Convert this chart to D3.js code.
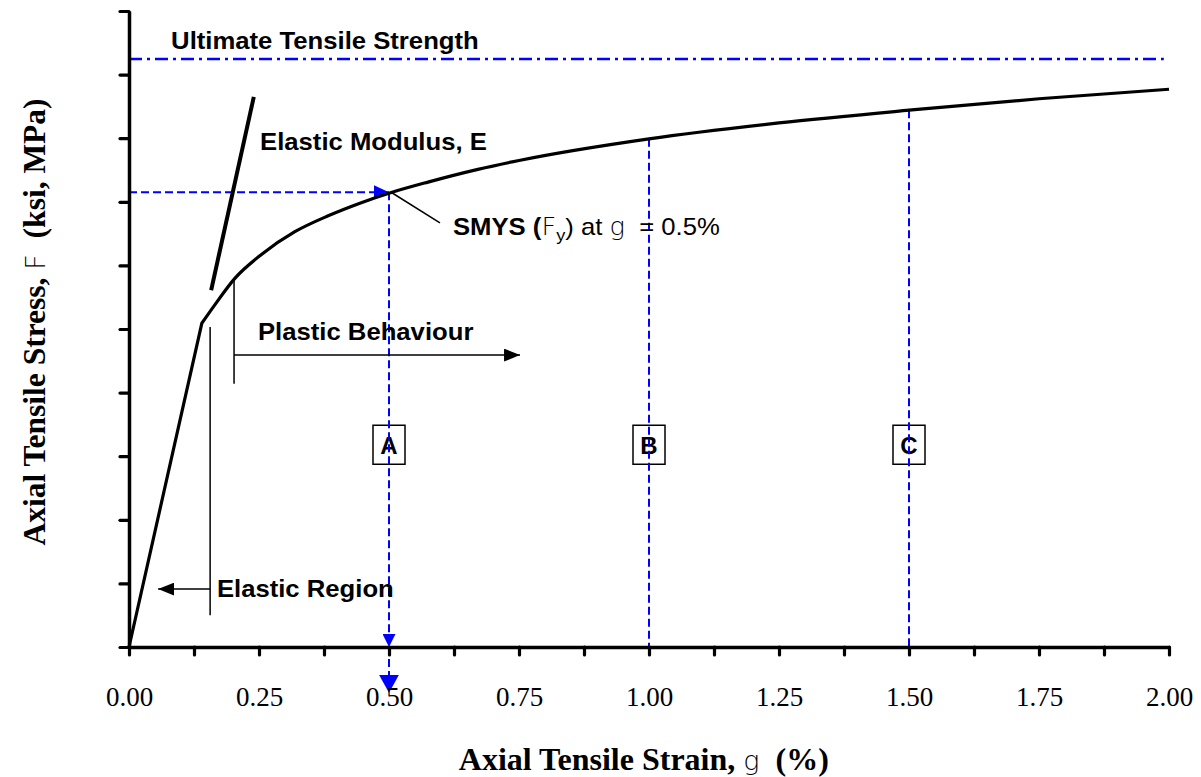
<!DOCTYPE html>
<html>
<head>
<meta charset="utf-8">
<script src="https://cdn.jsdelivr.net/npm/d3@7"></script>
<style>
body { margin: 0; background: #fff; }
text { white-space: pre; }
</style>
</head>
<body>
<script>
// stress-strain curve (strain in %, stress in axis units)
// point 1 is the end of the elastic part
const strain = [0, 0.14, 0.165, 0.204, 0.256, 0.319, 0.383, 0.448, 0.506, 0.575, 0.671, 0.75, 1.0, 1.25, 1.5, 1.75, 2.0];
const stress = [0, 5.09, 5.38, 5.80, 6.18, 6.53, 6.78, 6.99, 7.15, 7.31, 7.51, 7.65, 7.99, 8.24, 8.44, 8.62, 8.77];

const xTickValues = [0, 0.125, 0.25, 0.375, 0.5, 0.625, 0.75, 0.875, 1, 1.125, 1.25, 1.375, 1.5, 1.625, 1.75, 1.875, 2];
const xTickLabels = ["0.00", "", "0.25", "", "0.50", "", "0.75", "", "1.00", "", "1.25", "", "1.50", "", "1.75", "", "2.00"];
const yTickValues = [0, 1, 2, 3, 4, 5, 6, 7, 8, 9, 10];

const utsStress = 9.245;
const smysStrain = 0.5;
const smysStress = 7.15;
const pointNames = ["A", "B", "C"];
const pointStrains = [0.5, 1.0, 1.5];
const pointStress = [7.15, 7.99, 8.44];
const modulusLine = [[0.158, 5.61], [0.240, 8.65]];

const width = 1201, height = 777;
const blue = "#0000ff";
const sans = "Liberation Sans, Arial, sans-serif";
const serif = "Liberation Serif, Times New Roman, serif";
const symb = "DejaVu Sans";

const svg = d3.select("body").append("svg")
    .attr("width", width)
    .attr("height", height);

const x = d3.scaleLinear().domain([0, 2]).range([129, 1169]);
const y = d3.scaleLinear().domain([0, 10]).range([647, 11]);

const defs = svg.append("defs");
function marker(id, color, w, h) {
    defs.append("marker")
        .attr("id", id)
        .attr("markerUnits", "userSpaceOnUse")
        .attr("viewBox", `0 0 ${w} ${h}`)
        .attr("refX", w).attr("refY", h / 2)
        .attr("markerWidth", w).attr("markerHeight", h)
        .attr("orient", "auto")
        .append("path")
        .attr("d", `M0,0L${w},${h / 2}L0,${h}Z`)
        .attr("fill", color);
}
marker("blueH", blue, 15, 14);
marker("blueV1", blue, 13, 13);
marker("blueV2", blue, 18, 20);
marker("black", "#000", 16, 13);

// boxes A B C
const boxY = 3.18;
pointStrains.forEach((s, i) => {
    svg.append("rect")
        .attr("x", x(s) - 16).attr("y", y(boxY) - 19.5)
        .attr("width", 32).attr("height", 39)
        .attr("fill", "#fff").attr("stroke", "#000").attr("stroke-width", 1.5);
    svg.append("text")
        .attr("x", x(s)).attr("y", y(boxY) + 9)
        .attr("text-anchor", "middle")
        .attr("font-family", sans).attr("font-weight", "bold").attr("font-size", 24)
        .text(pointNames[i]);
});

// blue reference lines
svg.append("line")
    .attr("x1", x(0)).attr("x2", x(1.99))
    .attr("y1", y(utsStress)).attr("y2", y(utsStress))
    .attr("stroke", blue).attr("stroke-width", 2.4)
    .attr("stroke-dasharray", "13,5,3,5");

svg.append("line")
    .attr("x1", x(0)).attr("x2", x(smysStrain))
    .attr("y1", y(smysStress)).attr("y2", y(smysStress))
    .attr("stroke", blue).attr("stroke-width", 2)
    .attr("stroke-dasharray", "8,4")
    .attr("marker-end", "url(#blueH)");

pointStrains.forEach((s, i) => {
    svg.append("line")
        .attr("x1", x(s)).attr("x2", x(s))
        .attr("y1", y(pointStress[i])).attr("y2", y(0))
        .attr("stroke", blue).attr("stroke-width", 2)
        .attr("stroke-dasharray", "8,4")
        .attr("marker-end", i == 0 ? "url(#blueV1)" : null);
});
svg.append("line")
    .attr("x1", x(smysStrain)).attr("x2", x(smysStrain))
    .attr("y1", y(0)).attr("y2", y(-0.72))
    .attr("stroke", blue).attr("stroke-width", 2)
    .attr("stroke-dasharray", "8,4")
    .attr("marker-end", "url(#blueV2)");

// the curve: straight elastic part, smooth plastic part
const pts = strain.map((s, i) => [s, stress[i]]);
const straight = d3.line().x(d => x(d[0])).y(d => y(d[1]));
const smooth = d3.line().x(d => x(d[0])).y(d => y(d[1])).curve(d3.curveMonotoneX);

svg.append("path")
    .attr("d", straight(pts.slice(0, 2)) + smooth(pts.slice(1)).replace(/^M/, "L"))
    .attr("fill", "none")
    .attr("stroke", "#000")
    .attr("stroke-width", 3.2)
    .attr("stroke-linejoin", "round");

svg.append("path")
    .attr("d", straight(modulusLine))
    .attr("stroke", "#000")
    .attr("stroke-width", 4);

// thin annotation lines
const guides = [
    [[0.156, 5.03], [0.156, 0.50]],
    [[0.202, 5.77], [0.202, 4.14]],
    [[0.504, 7.15], [0.598, 6.67]]
];
guides.forEach(g => {
    svg.append("line")
        .attr("x1", x(g[0][0])).attr("y1", y(g[0][1]))
        .attr("x2", x(g[1][0])).attr("y2", y(g[1][1]))
        .attr("stroke", "#000").attr("stroke-width", 1.5);
});
const arrows = [
    [[0.156, 0.91], [0.056, 0.91]],
    [[0.202, 4.59], [0.752, 4.59]]
];
arrows.forEach(a => {
    svg.append("line")
        .attr("x1", x(a[0][0])).attr("y1", y(a[0][1]))
        .attr("x2", x(a[1][0])).attr("y2", y(a[1][1]))
        .attr("stroke", "#000").attr("stroke-width", 1.5)
        .attr("marker-end", "url(#black)");
});

// annotation labels
function note(xv, yv) {
    return svg.append("text")
        .attr("transform", `translate(${x(xv)},${y(yv)}) scale(1.07,1)`)
        .attr("font-family", sans).attr("font-size", 24);
}
note(0.081, 9.40).attr("font-weight", "bold").text("Ultimate Tensile Strength");
note(0.252, 7.81).attr("font-weight", "bold").text("Elastic Modulus, E");
note(0.248, 4.83).attr("font-weight", "bold").text("Plastic Behaviour");
note(0.169, 0.79).attr("font-weight", "bold").text("Elastic Region");

const smys = note(0.623, 6.48);
smys.append("tspan").attr("font-weight", "bold").text("SMYS (");
smys.append("tspan").attr("font-family", symb).attr("font-stretch", "condensed").attr("font-weight", 200).text("F");
smys.append("tspan").attr("font-size", 17).attr("dy", 6).text("y");
smys.append("tspan").attr("dy", -6).text(") at ");
smys.append("tspan").attr("font-family", symb).attr("font-stretch", "condensed").attr("font-weight", 200).text("g");
smys.append("tspan").text("  = 0.5%");

// axes
const xAxis = svg.append("g")
    .attr("transform", `translate(0,${y(0)})`)
    .call(d3.axisBottom(x)
        .tickValues(xTickValues)
        .tickFormat((d, i) => xTickLabels[i])
        .tickSize(8).tickSizeOuter(0).tickPadding(32));
const yAxis = svg.append("g")
    .attr("transform", `translate(${x(0)},0)`)
    .call(d3.axisLeft(y)
        .tickValues(yTickValues)
        .tickFormat("")
        .tickSize(9).tickSizeOuter(0));

[xAxis, yAxis].forEach(a => {
    a.select(".domain").attr("stroke", "#000").attr("stroke-width", 3.5);
    a.selectAll(".tick line").attr("stroke", "#000").attr("stroke-width", 3.2).attr("stroke-linecap", "round");
});
xAxis.selectAll(".tick text")
    .attr("font-family", serif).attr("font-size", 27).attr("fill", "#000");

// axis titles
const xTitle = svg.append("text")
    .attr("x", x(0.99)).attr("y", 770)
    .attr("text-anchor", "middle")
    .attr("font-family", serif).attr("font-weight", "bold").attr("font-size", 32);
xTitle.append("tspan").text("Axial Tensile Strain, ");
xTitle.append("tspan").attr("font-family", symb).attr("font-stretch", "condensed").attr("font-weight", 200).attr("font-size", 27).text("g");
xTitle.append("tspan").text("  (%)");

const yTitle = svg.append("text")
    .attr("transform", `translate(45,${y(5.11)}) rotate(-90)`)
    .attr("text-anchor", "middle")
    .attr("font-family", serif).attr("font-weight", "bold").attr("font-size", 31.5);
yTitle.append("tspan").text("Axial Tensile Stress, ");
yTitle.append("tspan").attr("font-family", symb).attr("font-stretch", "condensed").attr("font-weight", 200).attr("font-size", 27).text("F");
yTitle.append("tspan").text("  (ksi, MPa)");
</script>
</body>
</html>
